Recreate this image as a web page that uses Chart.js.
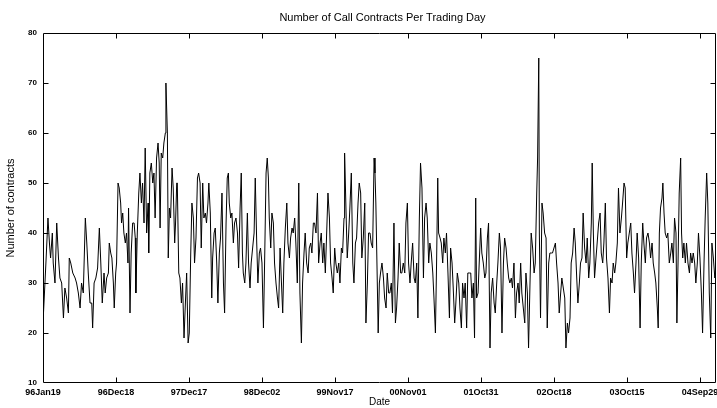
<!DOCTYPE html>
<html>
<head>
<meta charset="utf-8">
<script src="https://cdn.jsdelivr.net/npm/chart.js@4.4.1/dist/chart.umd.min.js"></script>
<style>
  html, body { margin: 0; padding: 0; background: #fff; }
  #wrap { width: 717px; height: 408px; }
</style>
</head>
<body>
<div id="wrap"><canvas id="c" width="717" height="408"></canvas></div>
<script>
// Date labels placed every TICK_STEP trading days
const tickLabels = ['96Jan19', '96Dec18', '97Dec17', '98Dec02', '99Nov17',
                    '00Nov01', '01Oct31', '02Oct18', '03Oct15', '04Sep29'];
const TICK_STEP = 250;
const LAST_DAY = 2305;
const yTicks = [10, 20, 30, 40, 50, 60, 70, 80];

// Trading-day index of each observation
const tradingDay = [
  0,10,17,22,26,32,35,41,47,53,58,64,70,75,81,87,90,95,102,110,115,121,127,132,138,145,150,155,161,167,170,175,181,187,193,198,203,209,213,218,224,227,232,236,241,244,249,252,
  257,261,266,269,273,277,282,286,291,293,298,302,307,312,316,318,323,328,332,337,341,346,350,355,360,362,366,371,376,380,384,389,394,398,401,405,410,414,419,421,426,429,433,437,442,446,451,454,458,460,465,469,474,478,483,487,492,497,501,506,510,515,519,524,529,533,538,
  542,547,551,556,560,565,568,573,578,581,586,590,595,599,604,608,613,618,622,627,631,635,638,643,647,652,656,661,666,670,675,679,683,686,691,695,700,704,709,713,718,723,727,732,736,741,745,750,755,759,764,768,772,775,780,784,789,793,798,803,807,812,816,821,825,830,835,839,844,848,853,857,862,866,871,876,880,885,889,894,898,903,908,912,917,921,926,930,935,940,944,949,953,958,962,967,971,976,981,985,990,994,999,1003,1008,1013,1017,1022,1026,1031,1033,1038,1042,1047,1051,1056,1061,1065,1070,1074,1079,1083,1088,1092,1097,1102,1106,1111,1115,1120,
  1124,1129,1134,1137,1140,1145,1148,1152,1156,1161,1166,1170,1175,1179,1184,1188,1193,1197,1202,1207,1211,1216,1220,1225,1229,1234,1239,1243,1248,1252,1257,1261,1266,1271,1275,1280,1284,1289,1293,1298,1303,1307,1312,1316,1321,1325,1330,1335,1339,1344,1348,1352,1355,1360,1364,1369,1373,1378,1382,1387,1392,1396,1401,1405,1410,1414,1419,1424,1428,1433,1437,1442,1446,1451,1455,1460,1465,1469,1474,1478,1482,1485,1490,1494,1499,1503,1508,1513,1517,1522,1526,1531,1535,1540,1545,1549,1554,1558,1563,1567,1572,1577,1581,1586,1590,1595,1599,1604,1608,1613,1618,1622,1627,1631,1636,1640,1645,1650,1654,1659,1663,1668,1672,1677,1682,1686,1691,1694,1698,
  1700,1704,1709,1713,1718,1723,1727,1732,1736,1741,1745,1750,1755,1759,1764,1768,1773,1777,1782,1787,1791,1796,1800,1805,1809,1814,1819,1823,1828,1832,1837,1841,1846,1850,1855,1860,1864,1869,1873,1878,1881,1885,1889,1894,1898,1903,1908,1912,1917,1921,1926,1930,1935,1940,1944,1949,1953,1958,1962,1967,1971,1976,1981,1985,1990,1994,1999,2003,2008,2013,2017,2022,2026,2031,2035,2040,2045,2049,2054,2058,2063,2067,2072,2077,2081,2086,2090,2095,2099,2104,2107,2111,2115,2120,2123,2127,2131,2136,2140,2145,2150,2154,2159,2163,2168,2171,2175,2179,2184,2187,2191,2195,2200,2204,2209,2214,2218,2223,2227,2232,2236,2241,2245,2250,2255,2259,2264,2268,2273,2277,2282,2287,2291,2296,2301,2305
];

// Number of call contracts traded on that day
const contracts = [
  22,34,43,38,35,40,34,30,42,35,31,30,23,29,27,24,35,34,32,31,30,28,25,30,28,43,38,32,26,26,21,30,31,33,41,34,26,32,28,31,32,38,36,35,30,25,32,34,
  50,49,46,42,44,40,38,40,34,45,24,36,42,42,39,28,40,48,52,46,50,42,57,40,46,36,52,54,50,52,43,55,58,54,41,56,55,58,60,70,60,35,45,43,53,49,38,42,50,50,32,31,26,30,19,25,32,18,20,36,46,43,34,39,51,52,50,
  37,50,43,44,42,46,50,44,27,35,40,41,34,26,36,39,48,30,24,42,51,52,46,43,44,38,42,43,40,33,45,52,36,32,30,34,44,34,29,34,37,40,51,38,30,36,37,34,21,34,52,55,51,43,37,44,42,34,30,27,25,37,31,24,34,41,46,38,35,39,41,40,43,38,30,50,28,18,30,36,40,34,32,37,38,36,42,42,40,48,34,38,40,34,38,32,39,48,43,34,31,28,37,34,32,34,30,37,36,43,56,44,35,40,45,52,34,30,38,39,46,50,48,35,39,46,22,30,40,40,
  38,37,55,52,46,30,20,30,32,34,31,27,25,32,28,28,30,24,42,22,25,31,38,32,32,34,32,42,46,34,30,34,38,31,30,34,23,43,54,49,31,43,46,43,34,38,36,32,27,20,34,51,40,39,38,34,39,36,40,32,23,37,34,29,22,26,32,30,25,21,30,27,30,21,32,32,32,27,30,19,47,27,28,34,41,36,34,31,32,39,42,17,28,31,26,24,30,34,40,37,20,34,39,37,34,31,30,31,29,34,23,28,30,26,34,28,25,22,32,28,17,30,40,37,32,34,48,55,75,
  40,23,46,44,40,39,21,34,36,36,36,37,38,34,30,24,28,31,29,27,17,22,20,23,34,36,41,38,31,26,30,34,35,44,37,34,39,31,34,42,54,40,31,35,38,42,44,36,34,38,46,35,31,24,31,30,34,32,34,38,49,40,43,46,50,49,35,38,40,42,36,32,28,34,40,35,21,34,42,38,34,39,40,38,35,38,34,32,30,25,21,40,45,47,50,44,40,39,40,34,36,38,34,43,40,22,34,48,55,40,35,38,34,38,34,32,36,34,36,34,30,34,40,35,28,20,34,43,52,46,28,19,38,35,31,34
];

const CHART_TITLE = 'Number of Call Contracts Per Trading Day';
const FONT = 'Arial, "Liberation Sans", Helvetica, sans-serif';

// Box around the plot with inward-pointing tick marks on all four sides, plus the title
const framePlugin = {
  id: 'frame',
  afterDraw(chart) {
    const { ctx, chartArea: a, scales: { x, y } } = chart;
    const L = Math.round(a.left) + 0.5, R = Math.round(a.right) - 0.5;
    const T = Math.round(a.top) + 0.5, B = Math.round(a.bottom) - 0.5;
    const len = 5;
    ctx.save();
    ctx.strokeStyle = '#000';
    ctx.lineWidth = 1;
    ctx.beginPath();
    ctx.rect(L, T, R - L, B - T);
    x.ticks.forEach(t => {
      const px = Math.round(x.getPixelForValue(t.value)) + 0.5;
      if (px <= L + 1 || px >= R - 1) return;
      ctx.moveTo(px, B); ctx.lineTo(px, B - len);
      ctx.moveTo(px, T); ctx.lineTo(px, T + len);
    });
    y.ticks.forEach(t => {
      const py = Math.round(y.getPixelForValue(t.value)) + 0.5;
      if (py <= T + 1 || py >= B - 1) return;
      ctx.moveTo(L, py); ctx.lineTo(L + len, py);
      ctx.moveTo(R, py); ctx.lineTo(R - len, py);
    });
    ctx.stroke();

    ctx.fillStyle = '#000';
    ctx.font = '11px ' + FONT;
    ctx.textAlign = 'center';
    ctx.textBaseline = 'middle';
    ctx.fillText(CHART_TITLE, (a.left + a.right) / 2 + 3, 18);
    ctx.restore();
  }
};

new Chart(document.getElementById('c'), {
  type: 'line',
  data: {
    datasets: [{
      data: tradingDay.map((d, i) => ({ x: d, y: contracts[i] })),
      borderColor: '#000',
      borderWidth: 1,
      pointRadius: 0,
      tension: 0,
      fill: false
    }]
  },
  options: {
    responsive: false,
    animation: false,
    devicePixelRatio: 1,
    layout: { padding: { top: 33, right: 1, left: 0, bottom: 0 } },
    plugins: { legend: { display: false }, tooltip: { enabled: false }, title: { display: false } },
    scales: {
      x: {
        type: 'linear',
        min: 0,
        max: LAST_DAY,
        grid: { display: false, drawTicks: false },
        border: { display: false },
        afterBuildTicks: s => { s.ticks = tickLabels.map((_, i) => ({ value: i * TICK_STEP })); },
        afterFit: s => { s.height = 25; s.paddingLeft = 0; s.paddingRight = 0; },
        ticks: {
          autoSkip: false,
          maxRotation: 0,
          minRotation: 0,
          padding: 4,
          color: '#000',
          font: { family: FONT, size: 9, weight: 'bold' },
          callback: v => tickLabels[Math.round(v / TICK_STEP)]
        },
        title: {
          display: true,
          text: 'Date',
          color: '#000',
          font: { family: FONT, size: 10 },
          padding: { top: 0, bottom: 0 }
        }
      },
      y: {
        min: 10,
        max: 80,
        grid: { display: false, drawTicks: false },
        border: { display: false },
        afterBuildTicks: s => { s.ticks = yTicks.map(v => ({ value: v })); },
        afterFit: s => { s.width = 43; s.paddingTop = 0; s.paddingBottom = 0; },
        ticks: {
          padding: 6,
          color: '#000',
          font: { family: FONT, size: 8, weight: 'bold' }
        },
        title: {
          display: true,
          text: 'Number of contracts',
          color: '#000',
          font: { family: FONT, size: 11 },
          padding: { top: 4, bottom: 0 }
        }
      }
    }
  },
  plugins: [framePlugin]
});
</script>
</body>
</html>
